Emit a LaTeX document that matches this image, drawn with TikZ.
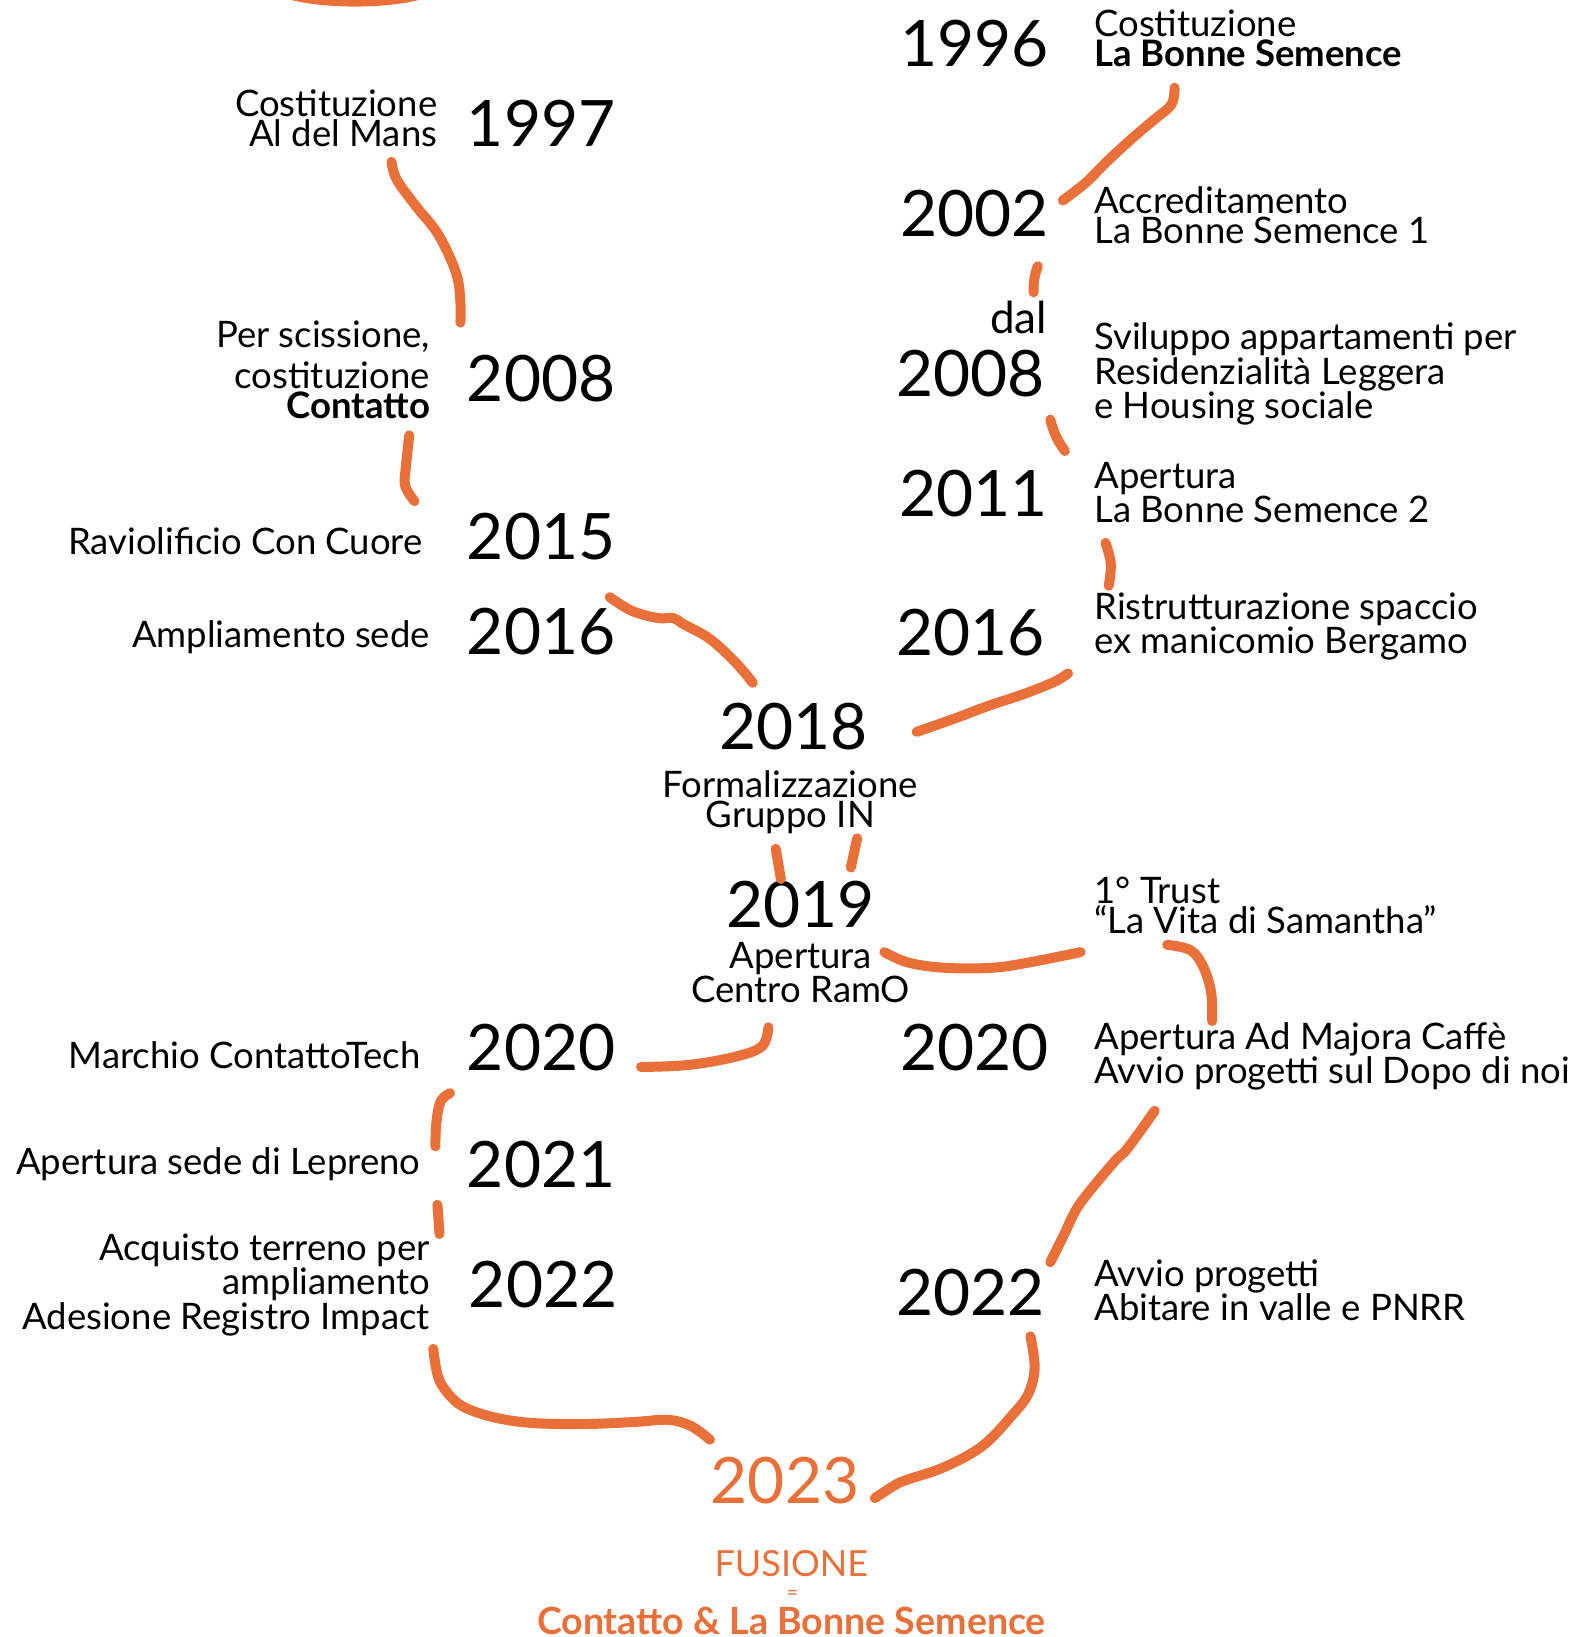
\documentclass[tikz,border=0pt]{standalone}
\usepackage{fontspec}
\setmainfont{Lato}
\definecolor{arancio}{HTML}{E97038}
\tikzset{
  anno/.style={inner sep=0pt, font=\fontsize{64}{64}\selectfont},
  testo/.style={inner sep=0pt, font=\fontsize{36.5}{30}\selectfont},
  tratto/.style={arancio, line width=10pt, line cap=round, line join=round},
}
\begin{document}
\begin{tikzpicture}[x=1.0438pt, y=-1.0438pt]
    \useasboundingbox (0,0) rectangle (1507,1568);

    % anni a sinistra
    \node[anno, anchor=base west] (a1997) at (447, 140) {1997};
    \node[anno, anchor=base west] (a2008l) at (447, 385) {2008};
    \node[anno, anchor=base west] (a2015) at (447, 536) {2015};
    \node[anno, anchor=base west] (a2016l) at (447, 627) {2016};
    \node[anno, anchor=base west] (a2020l) at (447, 1025) {2020};
    \node[anno, anchor=base west] (a2021) at (447, 1137) {2021};
    \node[anno, anchor=base west] (a2022l) at (449, 1252) {2022};

    % testi a sinistra
    \node[testo, anchor=base east, align=right] (t1997) at (419, 140) {Costituzione\\Al del Mans};
    \node[testo, anchor=base east, align=right] (t2008l) at (412, 401) {Per scissione,\\[8pt]costituzione\\\textbf{Contatto}};
    \node[testo, anchor=base east] (t2015) at (405, 531) {Raviolificio Con Cuore};
    \node[testo, anchor=base east] (t2016l) at (412, 620) {Ampliamento sede};
    \node[testo, anchor=base east] (t2020l) at (403, 1023) {Marchio ContattoTech};
    \node[testo, anchor=base east] (t2021) at (403, 1125) {Apertura sede di Lepreno};
    \node[testo, anchor=base east, align=right] (t2022l) at (412, 1273) {Acquisto terreno per\\ampliamento\\Adesione Registro Impact};

    % anni a destra
    \node[anno, anchor=base east] (a1996) at (1005, 64) {1996};
    \node[anno, anchor=base east] (a2002) at (1005, 227) {2002};
    \node[inner sep=0pt, font=\fontsize{44}{44}\selectfont, anchor=base east] (dal) at (1003, 319) {dal};
    \node[anno, anchor=base east] (a2008r) at (1001, 380) {2008};
    \node[anno, anchor=base east] (a2011) at (1004, 495) {2011};
    \node[anno, anchor=base east] (a2016r) at (1001, 628) {2016};
    \node[anno, anchor=base east] (a2020r) at (1005, 1025) {2020};
    \node[anno, anchor=base east] (a2022r) at (1001, 1260) {2022};

    % testi a destra
    \node[testo, anchor=base west, align=left] (t1996) at (1048, 64) {Costituzione\\\textbf{La Bonne Semence}};
    \node[testo, anchor=base west, align=left] (t2002) at (1048, 233) {Accreditamento\\La Bonne Semence 1};
    \node[testo, anchor=base west, align=left] (t2008r) at (1048, 401) {Sviluppo appartamenti per\\Residenzialità Leggera\\e Housing sociale};
    \node[testo, anchor=base west, align=left] (t2011) at (1048, 500) {Apertura\\La Bonne Semence 2};
    \node[testo, anchor=base west, align=left] (t2016r) at (1048, 626) {Ristrutturazione spaccio\\ex manicomio Bergamo};
    \node[testo, anchor=base west, align=left] (trust) at (1048, 894) {1° Trust\\“La Vita di Samantha”};
    \node[testo, anchor=base west, align=left] (t2020r) at (1048, 1038) {Apertura Ad Majora Caffè\\Avvio progetti sul Dopo di noi};
    \node[testo, anchor=base west, align=left] (t2022r) at (1048, 1265) {Avvio progetti\\Abitare in valle e PNRR};

    % centro
    \node[anno, anchor=base] (a2018) at (760, 718) {2018};
    \node[testo, anchor=base, align=center] (t2018) at (757, 793) {Formalizzazione\\Gruppo IN};
    \node[anno, anchor=base] (a2019) at (767, 888) {2019};
    \node[testo, anchor=base, align=center] (t2019) at (767, 960) {Apertura\\Centro RamO};
    \node[anno, anchor=base, text=arancio] (a2023) at (752, 1440) {2023};
    \node[anchor=base, inner sep=0pt, text=arancio, font=\fontsize{36}{36}\selectfont] (fusione) at (758, 1510) {FUSIONE};
    \node[anchor=base, inner sep=0pt, text=arancio, font=\fontsize{20}{20}\selectfont] (uguale) at (759, 1532) {=};
    \node[anchor=base, inner sep=0pt, text=arancio, font=\fontsize{37.5}{37.5}\selectfont\bfseries] (fine) at (758, 1566) {Contatto \& La Bonne Semence};

    % tratti arancioni
    \coordinate (s0a) at (275, -6);   \coordinate (s0b) at (405, -6);
    \draw[tratto] (s0a) .. controls (310, 4) and (370, 4) .. (s0b);

    \coordinate (s1a) at (375, 155);  \coordinate (s1b) at (441, 309);
    \draw[tratto] plot[smooth, tension=0.6] coordinates {(s1a) (380, 172) (398, 197) (420, 225) (437, 262) (441, 290) (s1b)};

    \coordinate (s2a) at (392, 417);  \coordinate (s2b) at (397, 480);
    \draw[tratto] plot[smooth, tension=0.6] coordinates {(s2a) (389, 445) (388, 465) (s2b)};

    \coordinate (s3a) at (584, 572);  \coordinate (s3b) at (721, 654);
    \draw[tratto] plot[smooth, tension=0.6] coordinates {(s3a) (605, 585) (630, 592) (645, 592) (655, 598) (680, 612) (705, 635) (s3b)};

    \coordinate (s4a) at (1125, 84); \coordinate (s4b) at (1018, 192);
    \draw[tratto] plot[smooth, tension=0.6] coordinates {(s4a) (1122, 100) (1105, 115) (1085, 132) (1060, 155) (1040, 175) (s4b)};

    \coordinate (s5a) at (994, 255); \coordinate (s5b) at (990, 280);
    \draw[tratto] (s5a) to[bend right=10] (s5b);

    \coordinate (s6a) at (1006, 402); \coordinate (s6b) at (1020, 432);
    \draw[tratto] (s6a) to[bend right=10] (s6b);

    \coordinate (s7a) at (1059, 520); \coordinate (s7b) at (1062, 561);
    \draw[tratto] plot[smooth, tension=0.6] coordinates {(s7a) (1064, 540) (s7b)};

    \coordinate (s8a) at (1023, 645); \coordinate (s8b) at (878, 701);
    \draw[tratto] plot[smooth, tension=0.6] coordinates {(s8a) (1010, 653) (980, 665) (947, 676) (915, 688) (s8b)};

    \coordinate (s9a) at (743, 813); \coordinate (s9b) at (748, 842);
    \draw[tratto] (s9a) -- (s9b);
    \coordinate (s10a) at (821, 803); \coordinate (s10b) at (815, 831);
    \draw[tratto] (s10a) -- (s10b);

    \coordinate (s11a) at (847, 912); \coordinate (s11b) at (1035, 912);
    \draw[tratto] plot[smooth, tension=0.6] coordinates {(s11a) (870, 922) (905, 927) (950, 927) (985, 922) (s11b)};

    \coordinate (s12a) at (1118, 905); \coordinate (s12b) at (1161, 978);
    \draw[tratto] plot[smooth, tension=0.6] coordinates {(s12a) (1140, 910) (1152, 925) (1160, 950) (s12b)};

    \coordinate (s13a) at (736, 984); \coordinate (s13b) at (614, 1022);
    \draw[tratto] plot[smooth, tension=0.6] coordinates {(s13a) (730, 1002) (705, 1012) (660, 1020) (s13b)};

    \coordinate (s14a) at (431, 1047); \coordinate (s14b) at (417, 1098);
    \draw[tratto] plot[smooth, tension=0.6] coordinates {(s14a) (422, 1055) (418, 1075) (s14b)};

    \coordinate (s15a) at (419, 1154); \coordinate (s15b) at (421, 1182);
    \draw[tratto] (s15a) -- (s15b);

    \coordinate (s16a) at (415, 1292); \coordinate (s16b) at (680, 1379);
    \draw[tratto] plot[smooth, tension=0.6] coordinates {(s16a) (420, 1320) (432, 1338) (447, 1349) (475, 1358) (510, 1363) (560, 1364) (608, 1362) (640, 1360) (662, 1366) (s16b)};

    \coordinate (s17a) at (1106, 1064); \coordinate (s17b) at (1006, 1209);
    \draw[tratto] plot[smooth, tension=0.6] coordinates {(s17a) (1080, 1100) (1068, 1112) (1042, 1143) (1030, 1160) (1018, 1185) (s17b)};

    \coordinate (s18a) at (987, 1280); \coordinate (s18b) at (838, 1435);
    \draw[tratto] plot[smooth, tension=0.6] coordinates {(s18a) (991, 1310) (985, 1335) (970, 1355) (941, 1385) (905, 1405) (870, 1417) (858, 1422) (s18b)};

\end{tikzpicture}
\end{document}
